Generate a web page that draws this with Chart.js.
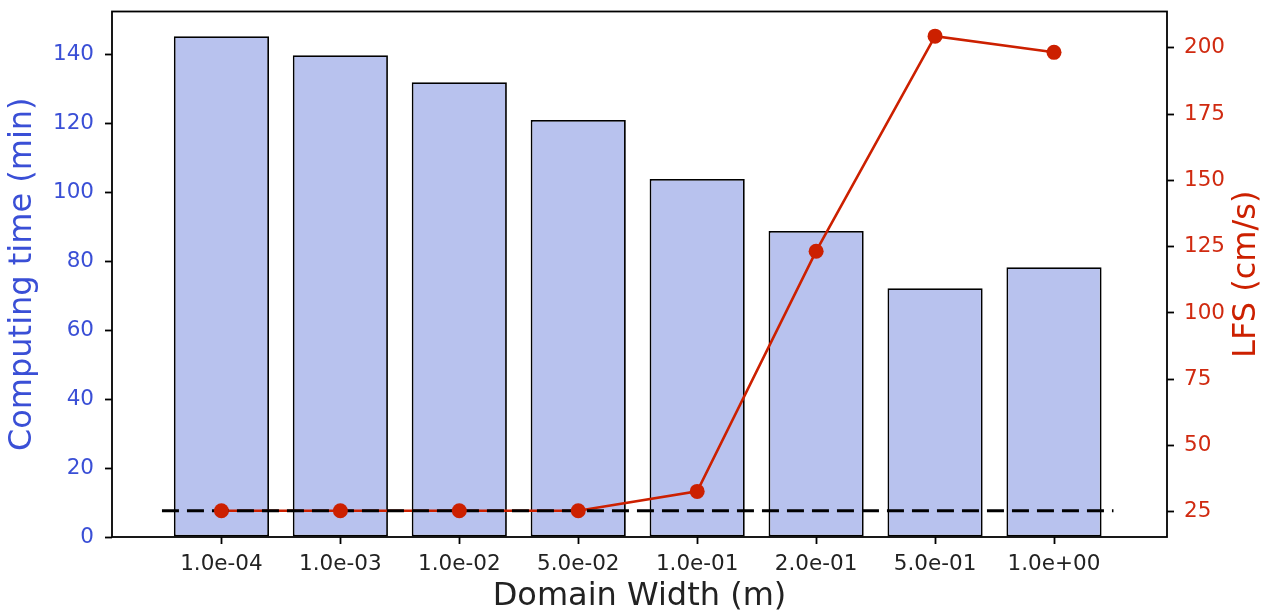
<!DOCTYPE html>
<html>
<head>
<meta charset="utf-8">
<script src="https://cdn.jsdelivr.net/npm/chart.js@4/dist/chart.umd.min.js"></script>
<style>
  html, body { margin: 0; padding: 0; background: #ffffff; }
  #wrap { width: 1271px; height: 614px; position: relative; }
</style>
</head>
<body>
<div id="wrap"><canvas id="chart" width="1271" height="614"></canvas></div>
<script>
// Domain widths tested (m)
const categories = ['1.0e-04', '1.0e-03', '1.0e-02', '5.0e-02', '1.0e-01', '2.0e-01', '5.0e-01', '1.0e+00'];
// Computing time per run (min)
const computingTime = [145.3, 139.8, 132.0, 121.0, 103.9, 88.8, 72.2, 78.3];
// Laminar flame speed obtained (cm/s)
const lfsValues = [25.4, 25.4, 25.4, 25.4, 32.7, 123.3, 204.4, 198.3];
// Reference flame speed (cm/s)
const lfsReference = 25.4;
// Axis ticks
const timeTicks = [0, 20, 40, 60, 80, 100, 120, 140];
const lfsTicks = [25, 50, 75, 100, 125, 150, 175, 200];

const BLUE = '#3a4fd6';
const RED = '#cc2000';
const FONT = 'DejaVu Sans';
const TITLE_SIZE = 32;
const TICK_SIZE = 21.5;

const barData = categories.map((_, i) => ({ x: i, y: computingTime[i] }));
const lfsData = categories.map((_, i) => ({ x: i, y: lfsValues[i] }));
const refData = [
  { x: -0.5, y: lfsReference },
  { x: categories.length - 0.5, y: lfsReference }
];

// Box around the plotting area plus the rotated right-hand title
const framePlugin = {
  id: 'frame',
  afterDraw(chart) {
    const { ctx, chartArea: a } = chart;
    ctx.save();
    ctx.strokeStyle = '#000000';
    ctx.lineWidth = 1.8;
    ctx.strokeRect(a.left, a.top, a.right - a.left, a.bottom - a.top);
    ctx.restore();

    ctx.save();
    ctx.fillStyle = RED;
    ctx.font = TITLE_SIZE + 'px "' + FONT + '"';
    ctx.textAlign = 'center';
    ctx.textBaseline = 'middle';
    ctx.translate(1247, (a.top + a.bottom) / 2);
    ctx.rotate(-Math.PI / 2);
    ctx.fillText('LFS (cm/s)', 0, 0);
    ctx.restore();
  }
};

function fixVertical(width) {
  return function (scale) {
    scale.width = width;
    scale.paddingTop = 0;
    scale.paddingBottom = 0;
  };
}

new Chart(document.getElementById('chart'), {
  data: {
    datasets: [
      {
        type: 'bar',
        data: barData,
        yAxisID: 'yTime',
        backgroundColor: '#b8c2ee',
        borderColor: '#000000',
        borderWidth: 1.8,
        borderSkipped: false,
        barPercentage: 0.8,
        categoryPercentage: 1.0,
        order: 4
      },
      {
        type: 'line',
        data: lfsData,
        yAxisID: 'yLfs',
        borderColor: RED,
        borderWidth: 2.6,
        pointRadius: 0,
        tension: 0,
        fill: false,
        order: 3
      },
      {
        type: 'line',
        data: refData,
        yAxisID: 'yLfs',
        borderColor: '#000000',
        borderWidth: 3.2,
        borderDash: [17, 8],
        pointRadius: 0,
        fill: false,
        order: 2
      },
      {
        type: 'line',
        data: lfsData,
        yAxisID: 'yLfs',
        showLine: false,
        pointRadius: 7.5,
        pointBackgroundColor: RED,
        pointBorderColor: RED,
        pointBorderWidth: 0,
        order: 1
      }
    ]
  },
  options: {
    responsive: false,
    animation: false,
    layout: { autoPadding: false, padding: { top: 11.5, left: 0, right: 0, bottom: 0 } },
    plugins: { legend: { display: false }, tooltip: { enabled: false } },
    scales: {
      x: {
        type: 'linear',
        position: 'bottom',
        min: -0.92,
        max: 7.95,
        offset: false,
        afterBuildTicks(scale) { scale.ticks = categories.map((_, i) => ({ value: i })); },
        afterFit(scale) { scale.height = 77; scale.paddingLeft = 0; scale.paddingRight = 0; },
        ticks: {
          autoSkip: false,
          maxRotation: 0,
          color: '#222222',
          padding: 8,
          font: { family: FONT, size: TICK_SIZE },
          callback: (v) => categories[v]
        },
        grid: { offset: false, drawOnChartArea: false, drawTicks: true, tickLength: 7, tickWidth: 1.8, tickColor: '#000000' },
        border: { display: false },
        title: {
          display: true,
          text: 'Domain Width (m)',
          color: '#222222',
          font: { family: FONT, size: TITLE_SIZE, lineHeight: 1.1 },
          padding: { top: 0, bottom: 0 }
        }
      },
      yTime: {
        type: 'linear',
        position: 'left',
        min: 0,
        max: 152.5,
        afterBuildTicks(scale) { scale.ticks = timeTicks.map(v => ({ value: v })); },
        afterFit: fixVertical(112),
        ticks: { color: BLUE, padding: 11, font: { family: FONT, size: TICK_SIZE } },
        grid: { drawOnChartArea: false, drawTicks: true, tickLength: 7, tickWidth: 1.8, tickColor: '#000000' },
        border: { display: false },
        title: {
          display: true,
          text: 'Computing time (min)',
          color: BLUE,
          font: { family: FONT, size: TITLE_SIZE, lineHeight: 1.1 },
          padding: { top: 4.6, bottom: 0 }
        }
      },
      yLfs: {
        type: 'linear',
        position: 'right',
        min: 15.5,
        max: 213.7,
        afterBuildTicks(scale) { scale.ticks = lfsTicks.map(v => ({ value: v })); },
        afterFit: fixVertical(104),
        ticks: { color: '#d02a10', padding: 10, font: { family: FONT, size: TICK_SIZE } },
        grid: { drawOnChartArea: false, drawTicks: true, tickLength: 7, tickWidth: 1.8, tickColor: '#000000' },
        border: { display: false }
      }
    }
  },
  plugins: [framePlugin]
});
</script>
</body>
</html>
